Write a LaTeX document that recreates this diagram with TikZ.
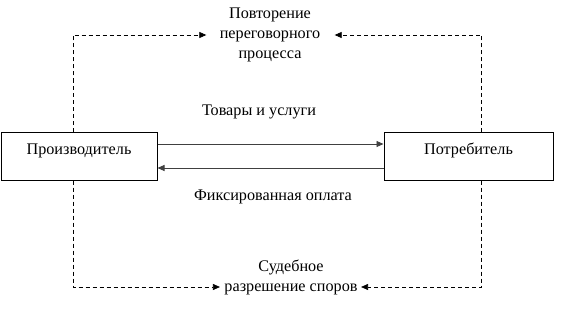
\documentclass[tikz,border=0pt]{standalone}
\usepackage{fontspec}
\setmainfont{Liberation Serif}
\usetikzlibrary{arrows.meta,positioning}

\begin{document}
\begin{tikzpicture}[x=1pt,y=-1pt,every node/.style={font=\fontsize{16.2}{20}\selectfont,align=center},
  party/.style={draw,line width=1pt,minimum height=48pt,inner sep=0pt,text height=10pt,text depth=14pt},
  flow/.style={-{Triangle[length=7pt,width=6pt]},line width=0.9pt,black!75},
  loopback/.style={-{Triangle[length=7pt,width=6pt]},dash pattern=on 4pt off 3pt,line width=0.7pt}]
\useasboundingbox (0,0) rectangle (573,321);
\node[party,minimum width=156pt] (prod) at (79,156) {Производитель};
\node[party,minimum width=169pt] (cons) at (468.5,156) {Потребитель};
\node (goods) at (259,112) {Товары и услуги};
\node (pay) at (273,197) {Фиксированная оплата};
\node (rep) at (270,35) {Повторение\\переговорного\\процесса};
\node (court) at (291,277) {Судебное\\разрешение споров};
\draw[flow] ([yshift=12pt]prod.east) -- ([yshift=12pt]cons.west);
\draw[flow] ([yshift=-12pt]cons.west) -- ([yshift=-12pt]prod.east);
% dashed feedback loops
\draw[loopback,shorten >=10pt] ([xshift=-6pt]prod.north) |- (rep.west);
\draw[loopback,shorten >=11pt] ([xshift=12.5pt]cons.north) |- (rep.east);
\draw[loopback,shorten >=1pt] ([xshift=-6pt]prod.south) |- ([yshift=-10pt]court.west);
\draw[loopback,shorten >=0pt] ([xshift=12.5pt]cons.south) |- ([yshift=-10pt]court.east);
\end{tikzpicture}
\end{document}
